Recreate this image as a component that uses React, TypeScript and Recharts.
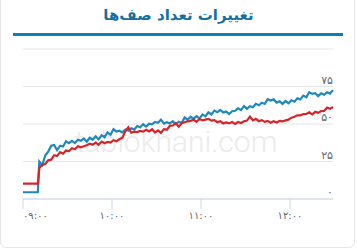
import React from 'react';
import { LineChart, Line, XAxis, YAxis, CartesianGrid } from 'recharts';

const title = 'تغییرات تعداد صف‌ها';
const watermark = 'tablokhani.com';

// minutes after 09:00
const minutes: number[] = [0, 10, ...Array.from({ length: 100 }, (_, i) => 11 + 2 * i)];

const blueSeries: number[] = [
  4.5, 4.5,
  24.9, 22.5, 29, 31.5, 35.5, 36, 32.5, 35.5, 35, 38.5,
  37.2, 38.8, 37.3, 39.5, 38.8, 40.3, 38.2, 40.8, 39.5, 41.8,
  39.8, 42.5, 41.2, 44.4, 42.8, 46.5, 45, 45.5, 44.4, 46.3,
  45.5, 47.2, 46.3, 48.6, 47.8, 49.8, 48.3, 50.2, 49.8, 51.4,
  50.8, 52.9, 50.3, 51.2, 50.3, 51.8, 49.8, 51.5, 50.8, 54.4,
  52.7, 54.8, 53.4, 55.2, 53.6, 56.4, 55.1, 57.8, 56.4, 58.9,
  57.8, 59.4, 57.6, 58.3, 56.6, 58.5, 58.8, 60.4, 59.3, 61.9,
  60.2, 61.9, 61.2, 63.5, 62.5, 64.2, 63.4, 66.5, 65.6, 66.4,
  64.3, 65.2, 63.4, 65.3, 63.8, 65.8, 64.9, 67.2, 66.4, 68.9,
  67.8, 71.2, 70.1, 70.6, 68.6, 70.5, 69.5, 71.2, 70.3, 72.6,
];

const redSeries: number[] = [
  10.2, 10.2,
  20.7, 22.8, 23.3, 25.8, 26.2, 29.2, 28.6, 31.2, 30.2, 32.3,
  31.9, 33.9, 33.2, 35.2, 34.5, 35.2, 35.8, 36.8, 36.2, 37.6,
  36.1, 38.3, 37.2, 38.1, 37.6, 39.2, 38.5, 39.8, 40.9, 45.2,
  47.8, 44.2, 44.9, 44.6, 45.4, 44.9, 46.1, 45.1, 46.5, 44.3,
  45.7, 44.1, 46.6, 46.2, 48.8, 49, 50.6, 48.2, 50.5, 51.2,
  51.8, 52.1, 52.9, 51.5, 53.3, 52.4, 52.9, 53.4, 52.2, 52.6,
  51.2, 51.9, 50.4, 51.1, 50.4, 51.3, 50.1, 51.3, 50.7, 51.8,
  52.3, 54.9, 52.4, 53.4, 51.9, 52.6, 51.4, 52.1, 50.8, 51.9,
  51, 52, 51.7, 52.4, 52.9, 54.2, 54.8, 55.8, 55.7, 56.6,
  56.7, 57.8, 56.4, 58.1, 57.4, 58.6, 58.7, 61, 60.1, 61.3,
];

const xTicks = [0, 60, 120, 180];
const yTicks = [0, 25, 50, 75, 100];
const hiddenYLabels = [100];

const data = minutes.map((t, i) => ({ t, blue: blueSeries[i], red: redSeries[i] }));

const FA = '۰۱۲۳۴۵۶۷۸۹';
const toFa = (s: string) => s.replace(/[0-9]/g, (d) => FA[Number(d)]);
const pad = (n: number) => (n < 10 ? '0' + n : '' + n);
const timeLabel = (m: number) => toFa(`${pad(9 + Math.floor(m / 60))}:${pad(m % 60)}`);

const FONT = '"DejaVu Sans", sans-serif';

const XTick = (props: any) => {
  const { x, y, payload, index } = props;
  return (
    <text
      x={x}
      y={y}
      dy={10}
      textAnchor={index === 0 ? 'start' : 'middle'}
      fill="#666666"
      fontSize={10}
      fontFamily={FONT}
    >
      {timeLabel(payload.value)}
    </text>
  );
};

const YTick = (props: any) => {
  const { x, y, payload } = props;
  if (hiddenYLabels.includes(payload.value)) return <g />;
  return (
    <text x={x} y={y} dy={-3} textAnchor="end" fill="#666666" fontSize={11} fontFamily={FONT}>
      {toFa(String(payload.value))}
    </text>
  );
};

export default function App() {
  return (
    <div
      style={{
        position: 'absolute',
        left: 0,
        top: 0,
        width: 357,
        height: 250,
        overflow: 'hidden',
        background: '#ffffff',
      }}
    >
      <div
        style={{
          position: 'absolute',
          left: 0,
          top: -10,
          width: 355,
          height: 258,
          border: '1px solid #e6e6e6',
          borderRadius: 6,
          boxSizing: 'border-box',
        }}
      />
      <div
        style={{
          position: 'absolute',
          left: 0,
          top: 4,
          width: 357,
          textAlign: 'center',
          direction: 'rtl',
          fontFamily: FONT,
          fontWeight: 'bold',
          fontSize: 15,
          color: '#1670a0',
          lineHeight: '22px',
        }}
      >
        {title}
      </div>
      <div
        style={{
          position: 'absolute',
          left: 13,
          top: 33,
          width: 330,
          height: 2.5,
          background: '#0a80b5',
        }}
      />
      <div
        style={{
          position: 'absolute',
          left: 0,
          top: 124,
          width: 352,
          textAlign: 'center',
          fontFamily: 'Roboto, sans-serif',
          fontWeight: 300,
          fontSize: 30,
          color: '#ebebeb',
          lineHeight: '36px',
        }}
      >
        {watermark}
      </div>
      <div style={{ position: 'absolute', left: 0, top: 0 }}>
        <LineChart
          width={357}
          height={250}
          data={data}
          margin={{ top: 49, right: 23, left: 23, bottom: 21 }}
        >
          <CartesianGrid horizontal vertical={false} stroke="#e6e6e6" />
          <XAxis
            dataKey="t"
            type="number"
            domain={[0, 209]}
            ticks={xTicks}
            height={30}
            stroke="#ccd6eb"
            tickSize={10}
            tickMargin={0}
            tickLine={{ stroke: '#ccd6eb' }}
            tick={<XTick />}
            interval={0}
          />
          <YAxis
            orientation="right"
            domain={[0, 100]}
            ticks={yTicks}
            width={1}
            axisLine={false}
            tickLine={false}
            tickSize={0}
            tickMargin={0}
            tick={<YTick />}
            interval={0}
          />
          <Line
            type="linear"
            dataKey="blue"
            stroke="#1f88bd"
            strokeWidth={2.2}
            dot={false}
            isAnimationActive={false}
          />
          <Line
            type="linear"
            dataKey="red"
            stroke="#d8232a"
            strokeWidth={2.2}
            dot={false}
            isAnimationActive={false}
          />
        </LineChart>
      </div>
    </div>
  );
}
